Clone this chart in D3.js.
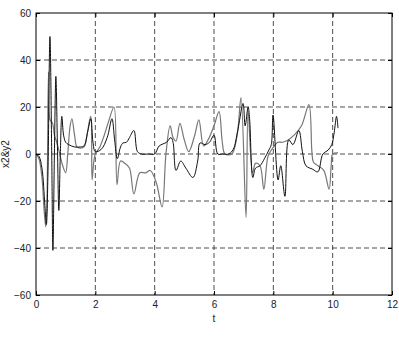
<!DOCTYPE html>
<html>
<head>
<meta charset="utf-8">
<script src="https://cdn.jsdelivr.net/npm/d3@7"></script>
<style>
  html, body { margin: 0; padding: 0; background: #fff; }
  svg { display: block; }
  text { font-family: "Liberation Sans", Arial, sans-serif; font-size: 10px; fill: #222; }
</style>
</head>
<body>
<script>
const xTicks = [0, 2, 4, 6, 8, 10, 12];
const yTicks = [-60, -40, -20, 0, 20, 40, 60];

const tBlack = [0,0.1,0.2,0.3,0.35,0.4,0.47,0.53,0.57,0.62,0.67,0.72,0.77,0.82,0.87,0.93,1.0,1.1,1.3,1.5,1.62,1.75,1.85,1.92,2.0,2.2,2.4,2.56,2.65,2.74,2.85,2.93,3.05,3.15,3.3,3.42,3.55,3.8,4.0,4.15,4.4,4.55,4.62,4.72,4.88,5.05,5.29,5.45,5.53,5.7,5.85,6.0,6.13,6.3,6.5,6.65,6.8,6.98,7.05,7.15,7.2,7.31,7.4,7.55,7.7,7.85,7.93,7.99,8.16,8.25,8.39,8.52,8.66,8.86,8.98,9.1,9.33,9.5,9.67,9.85,9.97,10.05,10.13,10.18];
const yBlack = [0,-1,-6,-22,-30,-10,50,0,-41,0,33,5,-24,0,16,8,5,4,3,3,3.5,10,15,5,1,2,7,15,6,-2,3,4.7,5,7,10,1,0,0,0,3.4,5,7,5,-7,-3,-6,-10,-3,4.7,4,5,8,0,0,0,2,10,21.5,12,20,15,-10,-6,-5,-2,1.7,4,16.6,-11,-5,-18,6,4,10,1,-5,-6.5,-7.6,0,1.7,4,9,16,11];

const tGray = [0,0.1,0.2,0.28,0.33,0.37,0.42,0.46,0.5,0.56,0.62,0.7,0.8,0.9,1.0,1.07,1.15,1.21,1.3,1.38,1.5,1.62,1.72,1.8,1.85,1.89,1.95,2.0,2.15,2.3,2.45,2.63,2.73,2.85,3.0,3.15,3.3,3.5,3.7,3.85,4.05,4.25,4.38,4.52,4.62,4.72,4.85,5.0,5.15,5.35,5.49,5.65,5.8,6.0,6.17,6.28,6.37,6.6,6.78,6.91,7.08,7.15,7.3,7.4,7.55,7.68,7.82,7.95,8.15,8.3,8.5,8.7,8.95,9.2,9.3,9.35,9.5,9.7,9.88,9.95,10.0,10.18];
const yGray = [0,-2,-10,-25,-31,-20,35,15,14,13,8,5,0,-5,-8,0,12,15,8,3,2.5,3,8,14,16,-11,-3,0,3,8,14,20,-13,-3,-4,-6,-17,-8,-8,-7,-12,-22.5,0,12,7,5.5,13,6,1,8,14.5,3.4,6,12,18,5,0,0,8,24,-27,18,-8,-4,-5,-15,-1,2,5,5,6,8,12,21,1,-3.4,-5,-7,-15,-5,0,0.5];

const W = 399, H = 338;
const L = 36, R = 392, T = 13, B = 295;

const svg = d3.select("body").append("svg").attr("width", W).attr("height", H);

const x = d3.scaleLinear().domain([0, 12]).range([L, R]);
const y = d3.scaleLinear().domain([-60, 60]).range([B, T]);

// grid
const grid = svg.append("g").attr("stroke", "#222").attr("stroke-width", 0.8).attr("stroke-dasharray", "5,3");
xTicks.filter(v => v > 0 && v < 12).forEach(v => {
  grid.append("line").attr("x1", x(v)).attr("x2", x(v)).attr("y1", T).attr("y2", B);
});
yTicks.filter(v => v > -60 && v < 60).forEach(v => {
  grid.append("line").attr("x1", L).attr("x2", R).attr("y1", y(v)).attr("y2", y(v));
});

function pts(ts, ys) {
  const n = Math.min(ts.length, ys.length);
  return d3.range(n).map(i => [ts[i], ys[i]]);
}
const line = d3.line().x(d => x(d[0])).y(d => y(d[1])).curve(d3.curveCatmullRom.alpha(0.5));

svg.append("path").datum(pts(tGray, yGray)).attr("d", line)
  .attr("fill", "none").attr("stroke", "#777").attr("stroke-width", 1.2);
svg.append("path").datum(pts(tBlack, yBlack)).attr("d", line)
  .attr("fill", "none").attr("stroke", "#111").attr("stroke-width", 1);

// axes (inward ticks)
const axB = d3.axisBottom(x).tickValues(xTicks).tickSizeInner(-4).tickSizeOuter(0).tickPadding(6);
const axL = d3.axisLeft(y).tickValues(yTicks).tickSizeInner(-4).tickSizeOuter(0).tickPadding(5);
const axT = d3.axisTop(x).tickValues(xTicks).tickSizeInner(-4).tickSizeOuter(0).tickFormat("");
const axR = d3.axisRight(y).tickValues(yTicks).tickSizeInner(-4).tickSizeOuter(0).tickFormat("");

function style(g) {
  g.select(".domain").remove();
  g.selectAll("line").attr("stroke", "#000");
  g.selectAll("text").attr("fill", "#222").style("font-family", '"Liberation Sans", Arial, sans-serif').style("font-size", "10px");
}
svg.append("g").attr("transform", `translate(0,${B})`).call(axB).call(style);
svg.append("g").attr("transform", `translate(${L},0)`).call(axL).call(style);
svg.append("g").attr("transform", `translate(0,${T})`).call(axT).call(style);
svg.append("g").attr("transform", `translate(${R},0)`).call(axR).call(style);

svg.append("rect").attr("x", L).attr("y", T).attr("width", R - L).attr("height", B - T)
  .attr("fill", "none").attr("stroke", "#000").attr("stroke-width", 1);

svg.append("text").attr("x", (L + R) / 2).attr("y", 322).attr("text-anchor", "middle").text("t");
svg.append("text").attr("transform", `translate(9,${(T + B) / 2}) rotate(-90)`)
  .attr("text-anchor", "middle").text("x2&y2");
</script>
</body>
</html>
